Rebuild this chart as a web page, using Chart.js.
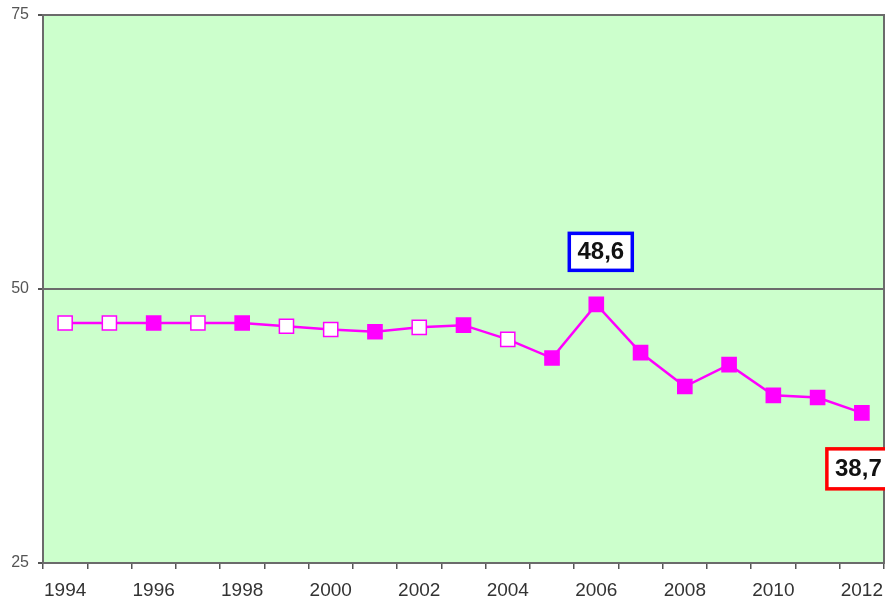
<!DOCTYPE html>
<html lang="en">
<head>
    <meta charset="UTF-8">
    <title>Line chart 1994-2012</title>
    <script src="https://cdn.jsdelivr.net/npm/chart.js"></script>
    <style>
        html, body { margin: 0; padding: 0; background: #ffffff; overflow: hidden; }
        .chart-container { position: relative; width: 885px; height: 606px; }
    </style>
</head>
<body>
    <div class="chart-container">
        <canvas id="lineChart"></canvas>
    </div>

    <script>
        const years = ['1994', '1995', '1996', '1997', '1998', '1999', '2000', '2001', '2002', '2003',
                       '2004', '2005', '2006', '2007', '2008', '2009', '2010', '2011', '2012'];
        const values = [46.9, 46.9, 46.9, 46.9, 46.9, 46.6, 46.3, 46.1, 46.5, 46.7,
                        45.4, 43.7, 48.6, 44.2, 41.1, 43.1, 40.3, 40.1, 38.7];
        // true = hollow (white) marker
        const hollow = [true, true, false, true, false, true, true, false, true, false,
                        true, false, false, false, false, false, false, false, false];
        const yTicks = [25, 50, 75];
        // highlighted values with their box colour
        const callouts = [
            { year: '2006', color: '#0000ff', dx: 4.5, dy: -52.5, w: 63, h: 37 },
            { year: '2012', color: '#ff0000', dx: -3.5, dy: 56, w: 63, h: 40 }
        ];

        const MAGENTA = '#ff00ff';
        const FONT = '"Liberation Sans", Arial, sans-serif';

        const plotPlugin = {
            id: 'plotDecor',
            beforeDraw(chart) {
                const { ctx, chartArea: a } = chart;
                ctx.save();
                ctx.fillStyle = '#ccffcc';
                ctx.fillRect(a.left, a.top, a.right - a.left, a.bottom - a.top);
                ctx.restore();
            },
            afterDatasetsDraw(chart) {
                const { ctx, chartArea: a } = chart;
                ctx.save();
                ctx.strokeStyle = '#6b6b6b';
                ctx.lineWidth = 2;
                ctx.strokeRect(a.left, a.top, a.right - a.left, a.bottom - a.top);
                ctx.restore();

                const xs = chart.scales.x, ys = chart.scales.y;
                callouts.forEach(c => {
                    const i = years.indexOf(c.year);
                    const text = values[i].toFixed(1).replace('.', ',');
                    const cx = xs.getPixelForValue(i) + c.dx;
                    const cy = ys.getPixelForValue(values[i]) + c.dy;
                    ctx.save();
                    ctx.fillStyle = '#ffffff';
                    ctx.fillRect(cx - c.w / 2, cy - c.h / 2, c.w, c.h);
                    ctx.strokeStyle = c.color;
                    ctx.lineWidth = 3.5;
                    ctx.strokeRect(cx - c.w / 2, cy - c.h / 2, c.w, c.h);
                    ctx.fillStyle = '#111111';
                    ctx.font = 'bold 24px ' + FONT;
                    ctx.textAlign = 'center';
                    ctx.textBaseline = 'middle';
                    ctx.fillText(text, cx, cy + 1);
                    ctx.restore();
                });
            }
        };

        new Chart(document.getElementById('lineChart').getContext('2d'), {
            type: 'line',
            data: {
                labels: years,
                datasets: [{
                    data: values,
                    borderColor: MAGENTA,
                    borderWidth: 2.5,
                    tension: 0,
                    pointStyle: 'rect',
                    pointRadius: 10,
                    pointHoverRadius: 10,
                    pointBorderWidth: 1.5,
                    pointBorderColor: MAGENTA,
                    pointBackgroundColor: hollow.map(h => h ? '#ffffff' : MAGENTA)
                }]
            },
            options: {
                responsive: true,
                maintainAspectRatio: false,
                animation: false,
                layout: { autoPadding: false, padding: { top: 15, right: 1, left: 0, bottom: 0 } },
                plugins: {
                    legend: { display: false },
                    tooltip: { enabled: false }
                },
                scales: {
                    x: {
                        offset: true,
                        grid: {
                            offset: true,
                            drawOnChartArea: false,
                            drawTicks: true,
                            tickLength: 6,
                            color: '#555555',
                            lineWidth: 1.5
                        },
                        border: { display: false },
                        ticks: {
                            autoSkip: false,
                            maxRotation: 0,
                            color: '#333333',
                            padding: 10,
                            font: { family: FONT, size: 19 },
                            callback: (v, i) => (i % 2 === 0 ? years[i] : '')
                        },
                        afterFit: s => { s.height = 43; s.paddingLeft = 0; s.paddingRight = 0; }
                    },
                    y: {
                        min: yTicks[0],
                        max: yTicks[yTicks.length - 1],
                        afterBuildTicks: s => { s.ticks = yTicks.map(v => ({ value: v })); },
                        grid: {
                            color: '#6b6b6b',
                            lineWidth: 2,
                            tickLength: 5,
                            tickColor: '#555555'
                        },
                        border: { display: false },
                        ticks: {
                            color: '#555555',
                            padding: 9,
                            font: { family: FONT, size: 16 }
                        },
                        afterFit: s => { s.width = 43; s.paddingTop = 0; s.paddingBottom = 0; }
                    }
                }
            },
            plugins: [plotPlugin]
        });
    </script>
</body>
</html>
